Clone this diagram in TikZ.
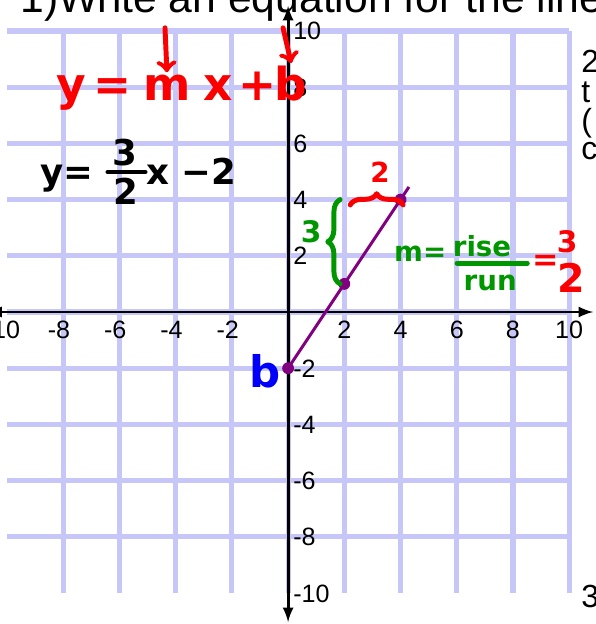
\documentclass[tikz,border=0pt]{standalone}
\usepackage{fontspec}
\setmainfont{Liberation Sans}
\newfontfamily\hand{DejaVu Sans}
\usetikzlibrary{decorations.pathreplacing}
\definecolor{gridblue}{RGB}{198,198,248}
\definecolor{penred}{RGB}{250,0,0}
\definecolor{pengreen}{RGB}{0,150,0}
\definecolor{penblue}{RGB}{0,0,250}
\definecolor{linepurple}{RGB}{128,0,128}

\begin{document}
\begin{tikzpicture}[x=0.5cm,y=0.5cm,>=latex,
        gridline/.style={gridblue,line width=2.6pt},
        axis/.style={line width=1.5pt},
        tick/.style={font=\fontsize{12.7}{14}\selectfont,inner sep=0pt},
        side/.style={font=\fontsize{16.2}{16}\selectfont,inner sep=0pt,anchor=base west},
        dot/.style={circle,fill=linepurple,inner sep=0pt,minimum size=6pt},
        pen/.style={font=\hand\bfseries\fontsize{#1}{#1}\selectfont,inner sep=1pt,anchor=base},
        stroke/.style={line width=2.5pt,line cap=round,line join=round},
        curly/.style={stroke,decorate,decoration={brace,amplitude=#1}}]

    \clip (-10.25,-11.1) rectangle (10.93,11.1);
    \fill[white] (-10.25,-11.1) rectangle (10.93,11.1);
    \draw[gridline] (-10,-10) grid (10,10);
    \draw[axis,<->] (-10.7,0) -- (10.85,0);
    \draw[axis,<->] (0,-11.03) -- (0,10.89);

    \foreach \x in {-8,-6,-4,-2}
        \node[tick,anchor=base] (xl\x) at (\x-0.15,-0.96) {\x};
    \foreach \x in {2,4,6,8,10}
        \node[tick,anchor=base] (xl\x) at (\x,-0.96) {\x};
    \node[tick,anchor=base east] (xl-10) at (-9.52,-0.96) {-10};
    \foreach \y in {10,8,6,4,2,-2,-4,-6,-8,-10}
        \node[tick,anchor=base west] (yl\y) at (0.17,\y-0.32) {\y};

    \node[font=\fontsize{21.6}{26}\selectfont,anchor=base west,inner sep=0pt] (title) at (-9.54,10.64) {1)Write an equation for the line};
    \node[side] (q2) at (10.42,8.51) {2};
    \node[side] (qt) at (10.42,7.44) {t};
    \node[side] (qp) at (10.42,6.41) {(};
    \node[side] (qc) at (10.42,5.41) {c};
    \node[side] (q3) at (10.42,-10.53) {3};

    \coordinate (pend) at (4.3,4.45);
    \node[dot] (p0) at (0,-2) {};
    \node[dot] (p1) at (2,1) {};
    \node[dot] (p2) at (4,4) {};
    \draw[linepurple,line width=1.5pt] (p0.center) -- (pend);

    \node[pen=23,text=penred] (hy) at (-7.72,7.54) {y};
    \node[pen=23,text=penred] (heq) at (-6.26,7.54) {=};
    \node[pen=23,text=penred] (hm) at (-4.31,7.54) {m};
    \node[pen=23,text=penred] (hx) at (-2.49,7.54) {x};
    \node[pen=23,text=penred] (hplus) at (-1.10,7.54) {+};
    \node[pen=23,text=penred] (hb) at (0.11,7.54) {b};
    \coordinate (mtop) at (-4.38,10.11);
    \coordinate (btop) at (-0.18,10.11);
    \draw[stroke,penred,-to] (mtop) -- (hm.north);
    \draw[stroke,penred,-to] (btop) -- (hb.north);

    \node[pen=18] (ky) at (-7.86,4.52) {y=};
    \node[pen=18] (knum) at (-5.80,5.20) {3};
    \node[pen=18] (kden) at (-5.77,3.81) {2};
    \draw[stroke] (-6.41,4.98) -- (-5.09,4.98);
    \node[pen=18] (kx) at (-3.45,4.52) {x −2};

    \coordinate (gbot) at (1.85,1.0);
    \coordinate (gtop) at (1.85,4.0);
    \draw[curly=0.22cm,pengreen] (gbot) -- (gtop);
    \node[pen=15,text=pengreen] (g3) at (0.82,2.49) {3};
    \coordinate (rleft) at (2.21,3.81);
    \coordinate (rright) at (4.09,3.81);
    \draw[curly=0.2cm,penred] (rleft) -- (rright);
    \node[pen=14,text=penred] (r2) at (3.27,4.59) {2};

    \node[pen=14,text=pengreen] (gm) at (4.70,1.78) {m=};
    \node[pen=14,text=pengreen] (grise) at (6.90,1.96) {rise};
    \draw[stroke,pengreen] (6.01,1.74) -- (8.51,1.74);
    \node[pen=14,text=pengreen] (grun) at (7.19,0.78) {run};
    \node[pen=16,text=penred] (req) at (9.15,1.49) {=};
    \node[pen=15,text=penred] (rnum) at (9.93,2.10) {3};
    \node[pen=20,text=penred] (rden) at (10.07,0.68) {2};

    \node[pen=22,text=penblue] (bb) at (-0.82,-2.67) {b};
\end{tikzpicture}
\end{document}
